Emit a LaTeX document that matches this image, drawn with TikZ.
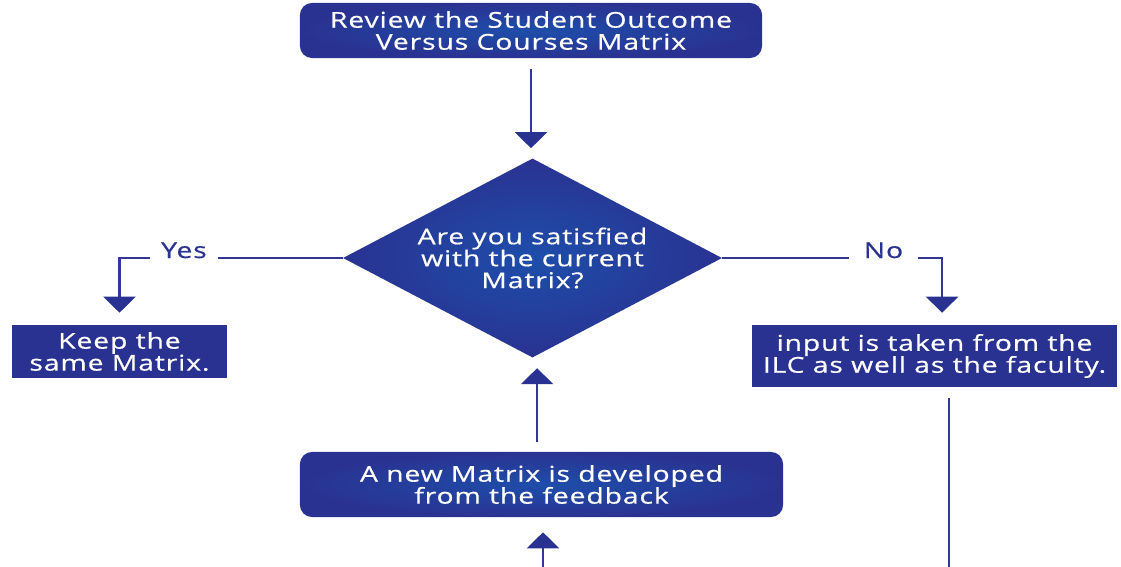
\documentclass[tikz,border=0pt]{standalone}
\usepackage{fontspec}
\setsansfont{Open Sans}[FakeStretch=1.3, LetterSpace=4, FakeBold=0.6]
\usetikzlibrary{shapes.geometric,arrows.meta}

\definecolor{flowdark}{RGB}{42,50,145}
\definecolor{flowlight}{RGB}{30,78,170}
\definecolor{flowline}{RGB}{50,54,152}

\begin{document}
\begin{tikzpicture}[x=0.025cm, y=-0.025cm,
  boxtext/.style={text=white, font=\sffamily\fontsize{15.5}{15.6}\selectfont, align=center, inner sep=0pt},
  roundbox/.style={boxtext, rectangle, rounded corners=0.3cm, shading=radial, inner color=flowlight, outer color=flowdark},
  squarebox/.style={boxtext, rectangle, fill=flowdark},
  question/.style={boxtext, diamond, aspect=1.9, shading=radial, inner color=flowlight, outer color=flowdark, minimum width=9.475cm, minimum height=4.975cm},
  answer/.style={text=flowdark, font=\sffamily\fontsize{15.5}{15.6}\selectfont, anchor=base, minimum width=1.7cm, inner sep=0pt},
  link/.style={draw=flowline, line width=1.8pt},
  flow/.style={link, -{Triangle[width=0.8cm, length=0.4cm, color=flowdark]}}
]
\useasboundingbox (0,0) rectangle (1121,567);

% Boxes
\node[roundbox, minimum width=11.55cm, minimum height=1.375cm] (review) at (531,30.5) {Review the Student Outcome\\Versus Courses Matrix};
\node[question] (quest) at (532.5,258) {Are you satisfied\\with the current\\Matrix?};
\node[squarebox, minimum width=5.375cm, minimum height=1.325cm] (keep) at (119.5,351.5) {Keep the\\same Matrix.};
\node[squarebox, minimum width=9.125cm, minimum height=1.55cm] (input) at (934.5,356) {input is taken from the\\ILC as well as the faculty.};
\node[roundbox, minimum width=12.075cm, minimum height=1.625cm] (newmatrix) at (541.5,484.5) {A new Matrix is developed\\from the feedback};

% Yes / No
\node[answer] (yes) at (184,258) {Yes};
\node[answer] (no) at (883.5,258) {No};

% loose ends at the bottom
\coordinate (cutR) at (949,567);
\coordinate (cutB) at (543,567);

% Arrows
\draw[flow, shorten <=0.275cm, shorten >=0.25cm] (review.south) -- (review.south |- quest.north);
\draw[link] (quest.west) -- (yes.base east);
\draw[flow, shorten >=0.3cm] (yes.base west) -| (keep.north);
\draw[link] (quest.east) -- (no.base west);
\draw[flow, shorten >=0.3cm] (no.base east) -| ([xshift=0.19cm]input.north);
\draw[link, shorten <=0.275cm] (input.south -| cutR) -- (cutR);
\draw[flow, shorten >=0.375cm] (cutB) -- (cutB |- newmatrix.south);
\draw[flow, shorten <=0.25cm, shorten >=0.26cm] ([xshift=-0.11cm]newmatrix.north) -- ([xshift=-0.11cm]newmatrix.north |- quest.south);

\end{tikzpicture}
\end{document}
